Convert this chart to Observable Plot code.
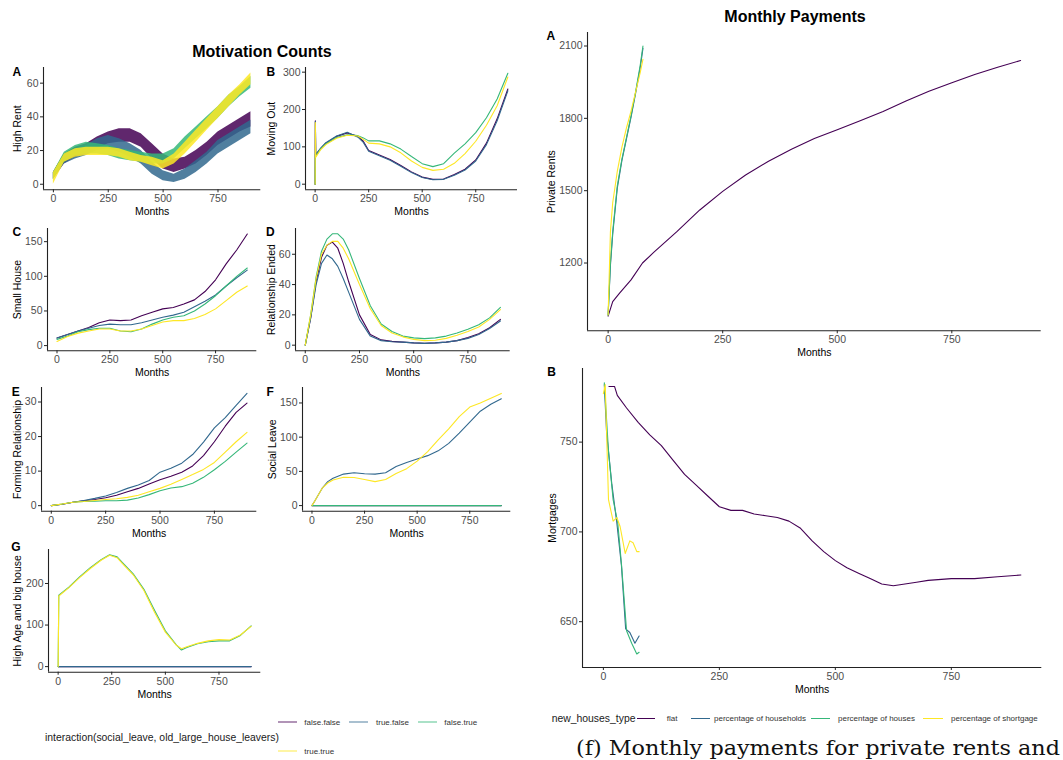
<!DOCTYPE html>
<html>
<head>
<meta charset="utf-8">
<script src="https://cdn.jsdelivr.net/npm/d3@7"></script>
<script src="https://cdn.jsdelivr.net/npm/@observablehq/plot@0.6"></script>
<style>
  html, body { margin: 0; padding: 0; background: #fff; }
  #root { position: relative; width: 1063px; height: 760px; overflow: hidden; background: #fff; font-family: "Liberation Sans", Arial, sans-serif; }
  .abs { position: absolute; white-space: nowrap; }
  .title { font-weight: bold; font-size: 16px; color: #000; transform: translate(-50%, -50%); }
  .legtitle { font-size: 10.4px; color: #1a1a1a; transform: translateY(-50%); }
  .legtext { font-size: 8px; color: #333; transform: translateY(-50%); }
  .sw { position: absolute; }
  .caption { font-family: "DejaVu Serif", "Liberation Serif", serif; font-size: 21px; color: #111; line-height: 1; transform-origin: 0 0; }
</style>
</head>
<body>
<div id="root"></div>
<script>
// ---------- shared ----------
const groups = ["false.false", "true.false", "false.true", "true.true"];
const houseTypes = ["flat", "percentage of households", "percentage of houses", "percentage of shortgage"];
const colors = ["#440154", "#31688E", "#35B779", "#FDE725"];
const xTicks = [0, 250, 500, 750];
const xDomain = [-45, 945];

// ---------- A: High Rent (oscillating band, low / high envelope) ----------
const hrMonths = [0,50,100,150,200,250,300,350,400,450,500,550,600,650,700,750,800,850,900];
const highRentLow = [
  [3,12,16,18,21,24,25,25,22,15,9,7,9,12,17,23,27,31,34],
  [3,12,15,17,20,21,19,16,12,6,2,1,3,7,12,18,22,26,30],
  [3,13,17,18,18,17,15,14,13,12,12,15,21,27,33,39,46,52,57],
  [0,13,16,17,17,17,16,14,13,11,9,12,18,25,32,39,46,53,59]
];
const highRentHigh = [
  [7,18,22,24,28,31,33,33,30,24,18,15,16,20,25,31,35,39,43],
  [7,18,21,23,27,29,27,24,20,13,8,6,9,14,19,26,30,34,38],
  [7,19,23,25,24,23,21,20,19,18,18,21,28,34,40,46,53,58,64],
  [7,18,21,22,22,22,21,19,17,16,14,18,25,32,39,46,53,59,66]
];

// ---------- B: Moving Out ----------
const moMonths = [0,1,3,25,50,100,150,200,225,250,300,350,400,450,500,550,600,650,700,750,800,850,900];
const movingOut = [
  [0,170,78,95,110,128,137,128,115,90,78,66,50,33,19,13,14,26,40,65,110,175,255],
  [0,168,80,96,111,129,139,126,112,88,76,64,48,31,18,12,13,24,38,62,106,170,250],
  [0,80,75,94,108,125,132,130,124,116,116,108,94,74,55,47,55,83,108,138,178,228,297],
  [0,165,72,92,106,123,131,129,120,110,108,100,84,62,45,37,40,56,82,115,158,210,287]
];

// ---------- C: Small House ----------
const shMonths = [0,50,100,150,200,250,300,350,400,450,500,550,600,650,700,750,800,850,900];
const smallHouse = [
  [11,16,21,26,33,37,36,37,43,48,53,55,60,66,78,95,118,138,161],
  [11,16,21,25,29,31,30,30,33,37,41,44,48,56,64,73,86,98,109],
  [9,14,20,23,25,25,21,20,24,31,37,41,43,50,60,72,86,100,112],
  [6,13,18,21,24,24,21,21,24,29,34,36,36,39,45,53,65,77,86]
];

// ---------- D: Relationship Ended ----------
const reMonths = [0,25,50,75,100,125,150,175,200,250,300,350,400,450,500,550,600,650,700,750,800,850,900];
const relEnded = [
  [0,18,42,58,66,68,64,54,42,20,7,3.5,2.5,2,1.5,1.3,1.5,2,3,5,7.5,11.5,17],
  [0,18,40,54,59.5,57,52,44,35,17,6,3,2.3,2,1.5,1.2,1.5,2,3,4.5,7,11,16],
  [0,20,45,62,70,73.5,73.5,70,63,44,26,14,9,6,4.8,4.3,4.8,6,8,10.5,13.5,18,25],
  [0,20,44,60,66,68.5,68.5,64,57,40,24,13,8,5.5,3.8,3,3.3,4.5,6.5,9,12,17,23.5]
];

// ---------- E: Forming Relationship ----------
const frMonths = [0,50,100,150,200,250,300,350,400,450,500,550,600,650,700,750,800,850,900];
const formingRel = [
  [0,0.4,1,1.4,1.8,2.3,3,4,5,6.3,7.5,8.5,9.7,11.5,14.5,18.5,23,27,29.7],
  [0,0.4,1,1.5,2.1,2.8,3.8,5,6,7.3,9.7,10.8,12.3,14.8,18.4,22.5,25.5,29,32.5],
  [0,0.5,1,1.2,1.3,1.4,1.4,1.6,2.2,3.2,4.3,5.1,5.5,6.5,8.2,10.4,12.8,15.5,18.1],
  [0,0.5,1,1.2,1.5,1.8,2,2.4,3,4,5,6.2,7.6,9,10.5,12.5,15.5,18.5,21.2]
];

// ---------- F: Social Leave ----------
const slMonths = [0,10,25,50,75,100,150,200,250,300,350,400,450,500,550,600,650,700,750,800,850,900];
const socialLeave = [
  [0,0,0,0,0,0,0,0,0,0,0,0,0,0,0,0,0,0,0,0,0,0],
  [0,5,13,26,35,40,46,48,46.5,46,48,57,63,68,73,80,91,106,122,138,148,156],
  [0,0,0,0,0,0,0,0,0,0,0,0,0,0,0,0,0,0,0,0,0,0],
  [0,5,13,26,33,37.5,41.5,41,38,35,38,47,54,65,79,96,112,130,144,150,157,164]
];

// ---------- G: High Age and big house ----------
const haMonths = [0,3,50,100,150,200,240,275,300,350,400,450,500,550,575,600,650,700,750,800,850,900];
const highAge = [
  [0,0,0,0,0,0,0,0,0,0,0,0,0,0,0,0,0,0,0,0,0,0],
  [0,0,0,0,0,0,0,0,0,0,0,0,0,0,0,0,0,0,0,0,0,0],
  [0,172,191,216,238,257,269,264,250,223,186,135,86,53,40,46,55,60,62,62,75,98],
  [0,170,190,214,236,256,268,262,248,221,183,130,83,52,43,48,56,62,65,64,76,97]
];

// ---------- Right A: Private Rents ----------
const rentFlatMonths = [0,10,25,50,75,100,150,200,250,300,350,400,450,500,550,600,650,700,750,800,850,900];
const rentFlat = [980,1040,1075,1130,1200,1245,1330,1420,1497,1565,1622,1672,1716,1753,1790,1828,1872,1912,1948,1982,2012,2040];
const rentShortMonths = [0,5,10,20,30,40,50,60,70,76];
const rentHouseholds = [985,1190,1320,1510,1625,1715,1805,1905,2010,2090];
const rentHouses = [985,1200,1330,1520,1630,1720,1810,1910,2020,2100];
const rentShortage = [985,1330,1450,1580,1680,1760,1830,1910,1990,2045];

// ---------- Right B: Mortgages ----------
const mortFlatMonths = [12,24,30,50,75,100,125,150,175,200,225,250,275,300,325,350,375,400,425,450,475,500,525,550,575,600,625,650,675,700,750,800,850,900];
const mortFlat = [781,781,776,769,761,754,748,740,732,726,720,714,712,712,710,709,708,706,702,695,689,684,680,677,674,671,670,671,672,673,674,674,675,676];
const mortHouseholdsMonths = [2,7,18,29,39,48,57,68,77];
const mortHouseholds = [782,755,727,705,681,646,644,638,642];
const mortHousesMonths = [2,11,21,31,39,50,61,72,77];
const mortHouses = [783,745,718,705,682,645,638,632,633];
const mortShortageMonths = [0,4,11,21,29,36,47,57,64,72,77];
const mortShortage = [777,782,718,706,708,703,688,695,694,689,689];

// ---------- helpers ----------
const FONT = '"Liberation Sans", Arial, sans-serif';
const root = document.getElementById("root");

function longRows(months, series, keys) {
  const rows = [];
  series.forEach((vals, i) => vals.forEach((v, j) => rows.push({g: keys[i], m: months[j], v})));
  return rows;
}
function pairRows(pairs, keys) {
  const rows = [];
  pairs.forEach(([months, vals], i) => vals.forEach((v, j) => rows.push({g: keys[i], m: months[j], v})));
  return rows;
}

function panel(cfg) {
  const mL = 52, mR = 6, mT = 12, mB = 34;
  const w = cfg.right - cfg.left, h = cfg.bottom - cfg.top;
  const svg = Plot.plot({
    width: w + mL + mR, height: h + mT + mB,
    marginLeft: mL, marginRight: mR, marginTop: mT, marginBottom: mB,
    x: {domain: xDomain},
    y: {domain: cfg.yDomain},
    color: {domain: cfg.keys, range: colors},
    style: {fontFamily: FONT, background: "transparent", overflow: "visible"},
    marks: [
      ...cfg.marks,
      Plot.ruleY([cfg.yDomain[0]], {stroke: "#222", strokeWidth: 1.1}),
      Plot.ruleX([xDomain[0]], {stroke: "#222", strokeWidth: 1.1}),
      Plot.axisX(xTicks, {tickSize: 3, tickPadding: 2, fontSize: 10.5, fill: "#4d4d4d", stroke: "#222", label: null, tickFormat: "d"}),
      Plot.axisY(cfg.yTicks, {tickSize: 3, tickPadding: 2, fontSize: 10.5, fill: "#4d4d4d", stroke: "#222", label: null, tickFormat: "d"}),
      Plot.text([cfg.ytitle], {text: d => d, frameAnchor: "left", dx: cfg.ytDx, rotate: -90, fontSize: 10.5, fill: "#000", textAnchor: "middle", lineAnchor: "middle"}),
      Plot.text(["Months"], {text: d => d, frameAnchor: "bottom", dy: 22, fontSize: 10.5, fill: "#000", textAnchor: "middle", lineAnchor: "middle"}),
      Plot.text([cfg.tag], {text: d => d, frameAnchor: "top-left", dx: cfg.tag_dx, dy: cfg.tag_dy, fontSize: 12, fontWeight: "bold", fill: "#000", textAnchor: "middle", lineAnchor: "middle"})
    ]
  });
  svg.style.position = "absolute";
  svg.style.left = (cfg.left - mL) + "px";
  svg.style.top = (cfg.top - mT) + "px";
  root.appendChild(svg);
}

function linePanel(cfg, rows) {
  cfg.marks = [Plot.line(rows, {x: "m", y: "v", z: "g", stroke: "g", strokeWidth: 1.1})];
  cfg.keys = cfg.keys || groups;
  panel(cfg);
}

// ---------- left panels ----------
const hrRows = [];
highRentLow.forEach((lows, i) => lows.forEach((lo, j) => hrRows.push({g: groups[i], m: hrMonths[j], lo, hi: highRentHigh[i][j]})));
panel({
  left: 42.7, right: 260, top: 67, bottom: 189.3, yDomain: [-3.3, 69.3], yTicks: [0,20,40,60],
  ytitle: "High Rent", ytDx: -25.4, tag: "A", tag_dx: -26.7, tag_dy: 4.7, keys: groups,
  marks: [Plot.areaY(hrRows, {x: "m", y1: "lo", y2: "hi", z: "g", fill: "g", fillOpacity: 0.85})]
});

linePanel({left: 305.3, right: 517.3, top: 67, bottom: 189.3, yDomain: [-15, 312.5], yTicks: [0,100,200,300],
  ytitle: "Moving Out", ytDx: -33.6, tag: "B", tag_dx: -34.6, tag_dy: 4.7}, longRows(moMonths, movingOut, groups));

linePanel({left: 46.7, right: 256, top: 227.7, bottom: 350, yDomain: [-7.5, 169], yTicks: [0,50,100,150],
  ytitle: "Small House", ytDx: -29.4, tag: "C", tag_dx: -30.7, tag_dy: 3.5}, longRows(shMonths, smallHouse, groups));

linePanel({left: 295.3, right: 510, top: 227.7, bottom: 350, yDomain: [-3.7, 77], yTicks: [0,20,40,60],
  ytitle: "Relationship Ended", ytDx: -23.6, tag: "D", tag_dx: -25.3, tag_dy: 3.5}, longRows(reMonths, relEnded, groups));

linePanel({left: 40.7, right: 256, top: 387.3, bottom: 511, yDomain: [-1.6, 34.2], yTicks: [0,10,20,30],
  ytitle: "Forming Relationship", ytDx: -23.4, tag: "E", tag_dx: -25.7, tag_dy: 4.4}, longRows(frMonths, formingRel, groups));

linePanel({left: 301.7, right: 510, top: 387.3, bottom: 511, yDomain: [-8.2, 172.6], yTicks: [0,50,100,150],
  ytitle: "Social Leave", ytDx: -30, tag: "F", tag_dx: -32.4, tag_dy: 4.4}, longRows(slMonths, socialLeave, groups));

linePanel({left: 47.7, right: 260, top: 549, bottom: 671.7, yDomain: [-13.4, 281.8], yTicks: [0,100,200],
  ytitle: "High Age and big house", ytDx: -30.4, tag: "G", tag_dx: -32.7, tag_dy: -2.3}, longRows(haMonths, highAge, groups));

// ---------- right panels ----------
linePanel({left: 587.3, right: 1041, top: 31.7, bottom: 330, yDomain: [919, 2156], yTicks: [1200,1500,1800,2100],
  ytitle: "Private Rents", ytDx: -35.6, tag: "A", tag_dx: -36.6, tag_dy: 3.3, keys: houseTypes},
  pairRows([[rentFlatMonths, rentFlat], [rentShortMonths, rentHouseholds], [rentShortMonths, rentHouses], [rentShortMonths, rentShortage]], houseTypes));

linePanel({left: 581.7, right: 1041, top: 368.3, bottom: 667.3, yDomain: [624.5, 791], yTicks: [650,700,750],
  ytitle: "Mortgages", ytDx: -30, tag: "B", tag_dx: -31, tag_dy: 4, keys: houseTypes},
  pairRows([[mortFlatMonths, mortFlat], [mortHouseholdsMonths, mortHouseholds], [mortHousesMonths, mortHouses], [mortShortageMonths, mortShortage]], houseTypes));

// ---------- titles ----------
function addText(cls, text, left, top, extra) {
  const d = document.createElement("div");
  d.className = "abs " + cls;
  d.textContent = text;
  d.style.left = left + "px";
  d.style.top = top + "px";
  if (extra) Object.assign(d.style, extra);
  root.appendChild(d);
  return d;
}
function addSwatch(x1, x2, y, color, opacity, thick) {
  const s = document.createElement("div");
  s.className = "sw";
  s.style.left = x1 + "px";
  s.style.width = (x2 - x1) + "px";
  s.style.height = thick + "px";
  s.style.top = (y - thick / 2) + "px";
  s.style.background = color;
  s.style.opacity = opacity;
  root.appendChild(s);
}
addText("title", "Motivation Counts", 262, 52);
addText("title", "Monthly Payments", 795, 17);

// ---------- left legend ----------
const legLeftX = [[277.7, 296.7, 304.3, 721.7], [349, 368.3, 376, 721.7], [417.7, 436.7, 444.3, 721.7], [277.7, 296.7, 304.3, 751]];
addText("legtitle", "interaction(social_leave, old_large_house_leavers)", 45, 737.3);
groups.forEach((g, i) => {
  const [a, b, t, y] = legLeftX[i];
  addSwatch(a, b, y, colors[i], 0.42, 2);
  addText("legtext", g, t, y);
});

// ---------- right legend ----------
const legRightX = [[636.7, 655, 666.7], [691, 710, 714], [810.7, 830, 838], [923, 942.7, 951]];
addText("legtitle", "new_houses_type", 551.7, 718.3);
houseTypes.forEach((g, i) => {
  const [a, b, t] = legRightX[i];
  addSwatch(a, b, 718.3, colors[i], 1, 1.3);
  addText("legtext", g, t, 718.3);
});

// ---------- caption (visible part of the figure caption) ----------
const cap = addText("caption", "(f) Monthly payments for private rents and", 576, 738);
const capW = cap.getBoundingClientRect().width;
cap.style.transform = "scaleX(" + (484 / capW) + ")";
</script>
</body>
</html>
